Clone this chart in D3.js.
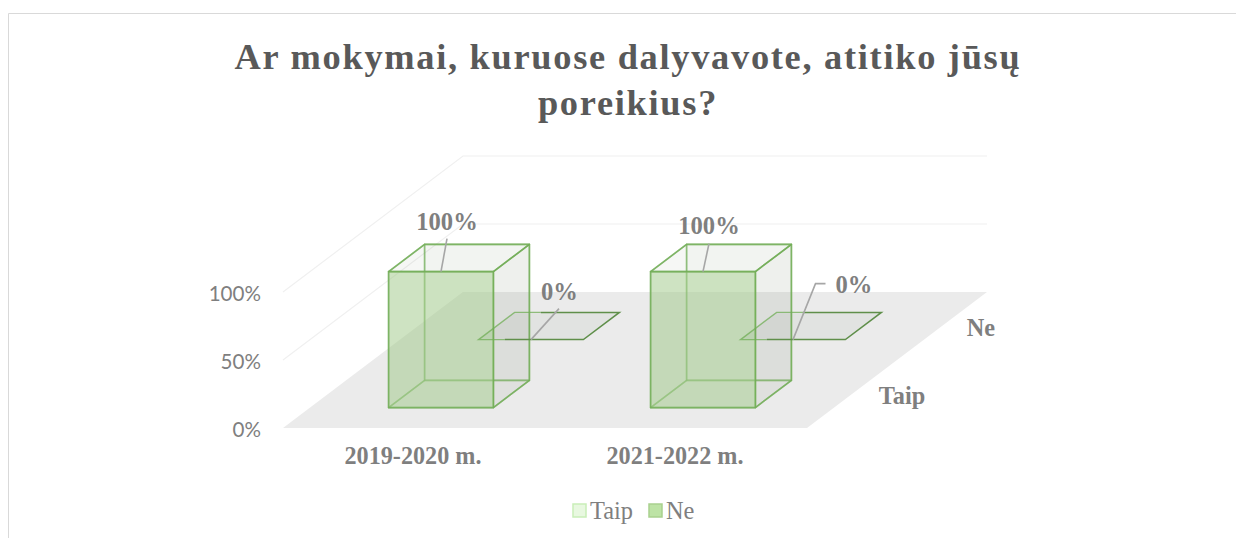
<!DOCTYPE html>
<html><head><meta charset="utf-8">
<script src="https://cdn.jsdelivr.net/npm/d3@7/dist/d3.min.js"></script>
<style>html,body{margin:0;padding:0;background:#fff;overflow:hidden}svg{display:block}
text{font-family:"Liberation Serif",serif}</style></head><body>
<svg id="c" width="1236" height="538"></svg>
<script>
const titleLines = ["Ar mokymai, kuruose dalyvavote, atitiko jūsų", "poreikius?"];
const categories = ["2019-2020 m.", "2021-2022 m."];
const seriesNames = ["Taip", "Ne"];
const taipValues = [100, 100];
const neValues = [0, 0];
const yTicks = [0, 50, 100];

const svg = d3.select("#c");
svg.append("path").attr("d","M8.5 538V13.5H1236").attr("fill","none").attr("stroke","#d9d9d9");

const x = d3.scaleBand().domain(categories).range([283,807]);
const y = d3.scaleLinear().domain([0,100]).range([428,292]);
const depthX = d3.scaleLinear().domain([0,1]).range([0,180]);
const depthY = d3.scaleLinear().domain([0,1]).range([0,-136]);
const depthBand = d3.scaleBand().domain(seriesNames).range([0,1]);
const P = (px,d,v)=>[px+depthX(d), y(v)+depthY(d)];
const line = d3.line();
const poly = pts=>line(pts)+"Z";

const x0=x.range()[0], x1=x.range()[1];
svg.append("path").attr("d",poly([P(x0,0,0),P(x1,0,0),P(x1,1,0),P(x0,1,0)])).attr("fill","#ebebeb");
yTicks.filter(t=>t>0).forEach(t=>{
  svg.append("path").attr("d",line([P(x0,0,t),P(x0,1,t),P(x1,1,t)])).attr("fill","none").attr("stroke","#f0f0f0").attr("stroke-width",1.2);
});

const yAxis = d3.axisLeft(y).tickValues(yTicks).tickSize(0).tickPadding(22).tickFormat(d=>d+"%");
const gy = svg.append("g").attr("transform","translate(283,2)").call(yAxis);
gy.select(".domain").remove();
gy.selectAll("text").attr("fill","#7f7f7f").style("font-family","Lato").style("font-size","20.6px");
const xAxis = d3.axisBottom(x).tickSize(0).tickPadding(19);
const gx = svg.append("g").attr("transform","translate(-1,428)").call(xAxis);
gx.select(".domain").remove();
gx.selectAll("text").attr("fill","#7f7f7f").style("font-family","'Liberation Serif'").style("font-size","24.2px").style("font-weight","700");

const widthFrac=0.4, depthFrac=0.4;
function box(cat,series,v){
  const bw=x.bandwidth()*widthFrac, l=x(cat)+(x.bandwidth()-bw)/2, r=l+bw;
  const c=depthBand(series)+depthBand.bandwidth()/2, hd=depthBand.bandwidth()*depthFrac/2;
  const d0=c-hd, d1=c+hd;
  const g=svg.append("g");
  const face=(pts,fill,stroke)=>g.append("path").attr("d",poly(pts)).attr("fill",fill).attr("stroke",stroke).attr("stroke-width",1.6).attr("stroke-linejoin","round");
  return {g,face,l,r,d0,d1,v};
}
categories.forEach((cat,i)=>{
  const b=box(cat,"Taip",taipValues[i]);
  const {l,r,d0,d1,v}=b;
  const edge="rgba(112,173,85,.8)", back="rgba(112,173,85,.5)";
  b.face([P(l,d1,0),P(r,d1,0),P(r,d1,v),P(l,d1,v)],"rgba(120,140,110,.06)",back);
  b.face([P(l,d0,0),P(l,d1,0),P(l,d1,v),P(l,d0,v)],"rgba(120,140,110,.03)",back);
  b.face([P(l,d0,0),P(r,d0,0),P(r,d1,0),P(l,d1,0)],"rgba(120,140,110,.03)",back);
  b.face([P(r,d0,0),P(r,d1,0),P(r,d1,v),P(r,d0,v)],"rgba(110,125,100,.06)",edge);
  b.face([P(l,d0,v),P(r,d0,v),P(r,d1,v),P(l,d1,v)],"rgba(110,125,100,.03)",edge);
  b.face([P(l,d0,0),P(r,d0,0),P(r,d0,v),P(l,d0,v)],"rgba(165,205,142,.52)",edge);
});
const leaderColor="#a6a6a6";
categories.forEach((cat,i)=>{
  const b=box(cat,"Ne",neValues[i]);
  const {l,r,d0,d1,v}=b;
  const mid=l+x.bandwidth()*0.1;
  b.g.append("path").attr("d",poly([P(l,d0,v),P(r,d0,v),P(r,d1,v),P(l,d1,v)])).attr("fill","rgba(70,110,60,.06)");
  svg.append("path").attr("d",line([P(mid,d0,v),P(l,d0,v),P(l,d1,v),P(mid,d1,v)])).attr("fill","none").attr("stroke","rgba(112,173,85,.75)").attr("stroke-width",1.4);
  svg.append("path").attr("d",line([P(mid,d1,v),P(r,d1,v),P(r,d0,v),P(mid,d0,v)])).attr("fill","none").attr("stroke","#5f8f4a").attr("stroke-width",1.5);
});

const labelFmt=d=>d+"%";
const taipLeader=[[[6,-33]],[[6,-28]]], taipLabel=[[6,-50],[6,-46]];
const neLeader=[[[28,-31]],[[22.5,-56],[32.5,-56]]], neLabel=[[28.5,-48],[61,-55]];
function leaderAndLabel(a,leader,lab,val){
  const pts=[a,...leader.map(o=>[a[0]+o[0],a[1]+o[1]])];
  svg.append("path").attr("d",line(pts)).attr("fill","none").attr("stroke",leaderColor).attr("stroke-width",1.6);
  svg.append("text").attr("x",a[0]+lab[0]).attr("y",a[1]+lab[1]).attr("text-anchor","middle").attr("dy","0.35em")
    .attr("fill","#7f7f7f").attr("font-weight",700).attr("font-size",24.6).text(labelFmt(val));
}
categories.forEach((cat,i)=>{
  const bw=x.bandwidth()*widthFrac, l=x(cat)+(x.bandwidth()-bw)/2;
  const hd=depthBand.bandwidth()*depthFrac/2;
  const cT=depthBand("Taip")+depthBand.bandwidth()/2, cN=depthBand("Ne")+depthBand.bandwidth()/2;
  leaderAndLabel(P(l+bw/2,cT-hd,taipValues[i]),taipLeader[i],taipLabel[i],taipValues[i]);
  leaderAndLabel(P(l+bw/2,cN-hd,neValues[i]),neLeader[i],neLabel[i],neValues[i]);
});

const depthAxisX=[902,981], depthAxisY=[395,327];
seriesNames.forEach((s,i)=>{
  svg.append("text").attr("x",depthAxisX[i]).attr("y",depthAxisY[i]).attr("dy","0.35em").attr("text-anchor","middle")
    .attr("fill","#7f7f7f").attr("font-weight",700).attr("font-size",24.3).text(s);
});

svg.append("g").selectAll("text").data(titleLines).join("text")
  .attr("x",628).attr("y",(d,i)=>69+i*45.5).attr("text-anchor","middle")
  .attr("fill","#595959").attr("font-weight",700).attr("font-size",36.4).attr("letter-spacing",1.7).text(d=>d);

const legendFill=["#e8f8e0","#bde3a5"], legendStroke=["#c9eeb8","#a9d18e"];
const legendX=[573,649], legendTextX=[590,666];
seriesNames.forEach((s,i)=>{
  svg.append("rect").attr("x",legendX[i]).attr("y",504).attr("width",13).attr("height",13).attr("fill",legendFill[i]).attr("stroke",legendStroke[i]).attr("stroke-width",1.5);
  svg.append("text").attr("x",legendTextX[i]).attr("y",519).attr("fill","#7f7f7f").attr("font-size",24.4).text(s);
});
</script></body></html>
